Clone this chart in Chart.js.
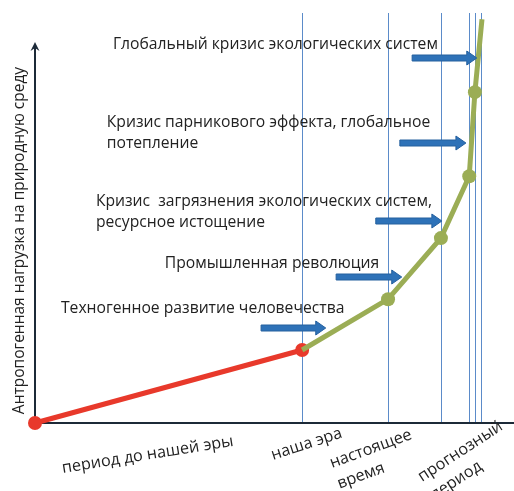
<!DOCTYPE html>
<html>
<head>
<meta charset="utf-8">
<script src="https://cdn.jsdelivr.net/npm/chart.js@4"></script>
<style>
  body { margin: 0; background: #fff; }
</style>
</head>
<body>
<canvas id="chart" width="514" height="491"></canvas>
<script>
// условные единицы: время 0..100, нагрузка 0..100
const pastX = [0, 56.6];
const pastY = [0, 17.8];
const futureX = [56.6, 74.8, 86.0, 92.0, 93.2, 94.7];
const futureY = [17.8, 30.2, 45.1, 60.2, 80.7, 98.5];
const futureMarks = [0, 1, 1, 1, 1, 0];
const dividerX = [56.6, 74.8, 86.0, 92.0, 93.2, 94.5];

const stageLabels = [
  ['Техногенное развитие человечества'],
  ['Промышленная революция'],
  ['Кризис  загрязнения экологических систем,', 'ресурсное истощение'],
  ['Кризис парникового эффекта, глобальное', 'потепление'],
  ['Глобальный кризис экологических систем']
];
const stageLabelX = [5.5, 27.5, 12.9, 15.2, 16.5];
const stageLabelY = [27.8, 39.0, 53.9, 73.2, 92.4];
const arrowFromX = [47.9, 63.8, 72.2, 77.3, 79.9];
const arrowToX = [61.6, 77.7, 86.2, 91.3, 93.6];
const arrowY = [23.2, 35.6, 49.3, 68.3, 89.0];

const periodLabels = [
  ['период до нашей эры'],
  ['наша эра'],
  ['настоящее', 'время'],
  ['прогнозный', 'период']
];
const periodX = [5.9, 50.4, 62.9, 82.0];
const yTitle = 'Антропогенная нагрузка на природную среду';

const FONT = '15.7px "Open Sans"';
const TEXT = '#222';
const AXIS = '#1c2a38';
// наклон и отступ подписей периодов
const periodStyle = [
  { dy: 50, angle: -9 },
  { dy: 37, angle: -18 },
  { dy: 45, angle: -20 },
  { dy: 59, angle: -33 }
];

function pts(xs, ys) {
  return xs.map((x, i) => ({ x: x, y: ys[i] }));
}

function drawArrow(ctx, x1, x2, y) {
  const shaft = 3, headH = 7, headL = 10;
  ctx.beginPath();
  ctx.moveTo(x1, y - shaft);
  ctx.lineTo(x2 - headL, y - shaft);
  ctx.lineTo(x2 - headL, y - headH);
  ctx.lineTo(x2, y);
  ctx.lineTo(x2 - headL, y + headH);
  ctx.lineTo(x2 - headL, y + shaft);
  ctx.lineTo(x1, y + shaft);
  ctx.closePath();
  ctx.fillStyle = '#2e72b8';
  ctx.fill();
  ctx.strokeStyle = '#25609e';
  ctx.lineWidth = 1;
  ctx.stroke();
}

const backdrop = {
  id: 'backdrop',
  beforeDatasetsDraw(chart) {
    const ctx = chart.ctx;
    const xs = chart.scales.x, ys = chart.scales.y;
    const y0 = ys.getPixelForValue(0);
    const left = xs.getPixelForValue(0);
    ctx.save();
    // вертикальные границы периодов
    ctx.strokeStyle = '#5b8bc9';
    ctx.lineWidth = 1;
    dividerX.forEach(v => {
      const x = Math.round(xs.getPixelForValue(v)) + 0.5;
      ctx.beginPath();
      ctx.moveTo(x, ys.getPixelForValue(100));
      ctx.lineTo(x, y0);
      ctx.stroke();
    });
    // оси
    ctx.strokeStyle = AXIS;
    ctx.lineWidth = 2;
    ctx.beginPath();
    ctx.moveTo(left, y0);
    ctx.lineTo(chart.width, y0);
    ctx.moveTo(left, y0);
    ctx.lineTo(left, ys.getPixelForValue(92.9) + 4);
    ctx.stroke();
    const top = ys.getPixelForValue(92.9);
    ctx.fillStyle = AXIS;
    ctx.beginPath();
    ctx.moveTo(left, top);
    ctx.lineTo(left - 4.5, top + 9);
    ctx.lineTo(left, top + 6);
    ctx.lineTo(left + 4.5, top + 9);
    ctx.closePath();
    ctx.fill();

    ctx.fillStyle = TEXT;
    // подпись оси Y
    ctx.save();
    ctx.font = '15.5px "Open Sans"';
    ctx.translate(20, (ys.getPixelForValue(0) + ys.getPixelForValue(92.9)) / 2 + 8);
    ctx.rotate(-Math.PI / 2);
    ctx.textAlign = 'center';
    ctx.textBaseline = 'middle';
    ctx.fillText(yTitle, 0, 0);
    ctx.restore();
    // подписи периодов
    ctx.font = '16.2px "Open Sans"';
    periodLabels.forEach((lines, i) => {
      const st = periodStyle[i];
      ctx.save();
      ctx.translate(xs.getPixelForValue(periodX[i]), y0 + st.dy);
      ctx.rotate(st.angle * Math.PI / 180);
      ctx.textAlign = 'left';
      ctx.textBaseline = 'alphabetic';
      lines.forEach((t, j) => ctx.fillText(t, 0, j * 22));
      ctx.restore();
    });
    ctx.restore();
  },
  afterDatasetsDraw(chart) {
    const ctx = chart.ctx;
    const xs = chart.scales.x, ys = chart.scales.y;
    ctx.save();
    arrowY.forEach((v, i) => {
      drawArrow(ctx, xs.getPixelForValue(arrowFromX[i]), xs.getPixelForValue(arrowToX[i]), Math.round(ys.getPixelForValue(v)));
    });
    ctx.font = FONT;
    ctx.fillStyle = TEXT;
    ctx.textAlign = 'left';
    ctx.textBaseline = 'middle';
    stageLabels.forEach((lines, i) => {
      const x = xs.getPixelForValue(stageLabelX[i]);
      const y = ys.getPixelForValue(stageLabelY[i]);
      lines.forEach((t, j) => ctx.fillText(t, x, y + j * 21));
    });
    ctx.restore();
  }
};

new Chart(document.getElementById('chart').getContext('2d'), {
  type: 'line',
  data: {
    datasets: [
      {
        data: pts(futureX, futureY),
        borderColor: '#9bad55',
        backgroundColor: '#9bad55',
        borderWidth: 5,
        pointRadius: futureMarks.map(m => m ? 7 : 0),
        pointBorderWidth: 0,
        tension: 0,
        clip: false
      },
      {
        data: pts(pastX, pastY),
        borderColor: '#e8392b',
        backgroundColor: '#e8392b',
        borderWidth: 5,
        pointRadius: 7,
        pointBorderWidth: 0,
        tension: 0,
        clip: false
      }
    ]
  },
  options: {
    responsive: false,
    animation: false,
    devicePixelRatio: 1,
    layout: { padding: { left: 35, right: 0, top: 13, bottom: 68 } },
    scales: {
      x: { type: 'linear', min: 0, max: 100, display: false },
      y: { min: 0, max: 100, display: false }
    },
    plugins: {
      legend: { display: false },
      tooltip: { enabled: false }
    }
  },
  plugins: [backdrop]
});
</script>
</body>
</html>
